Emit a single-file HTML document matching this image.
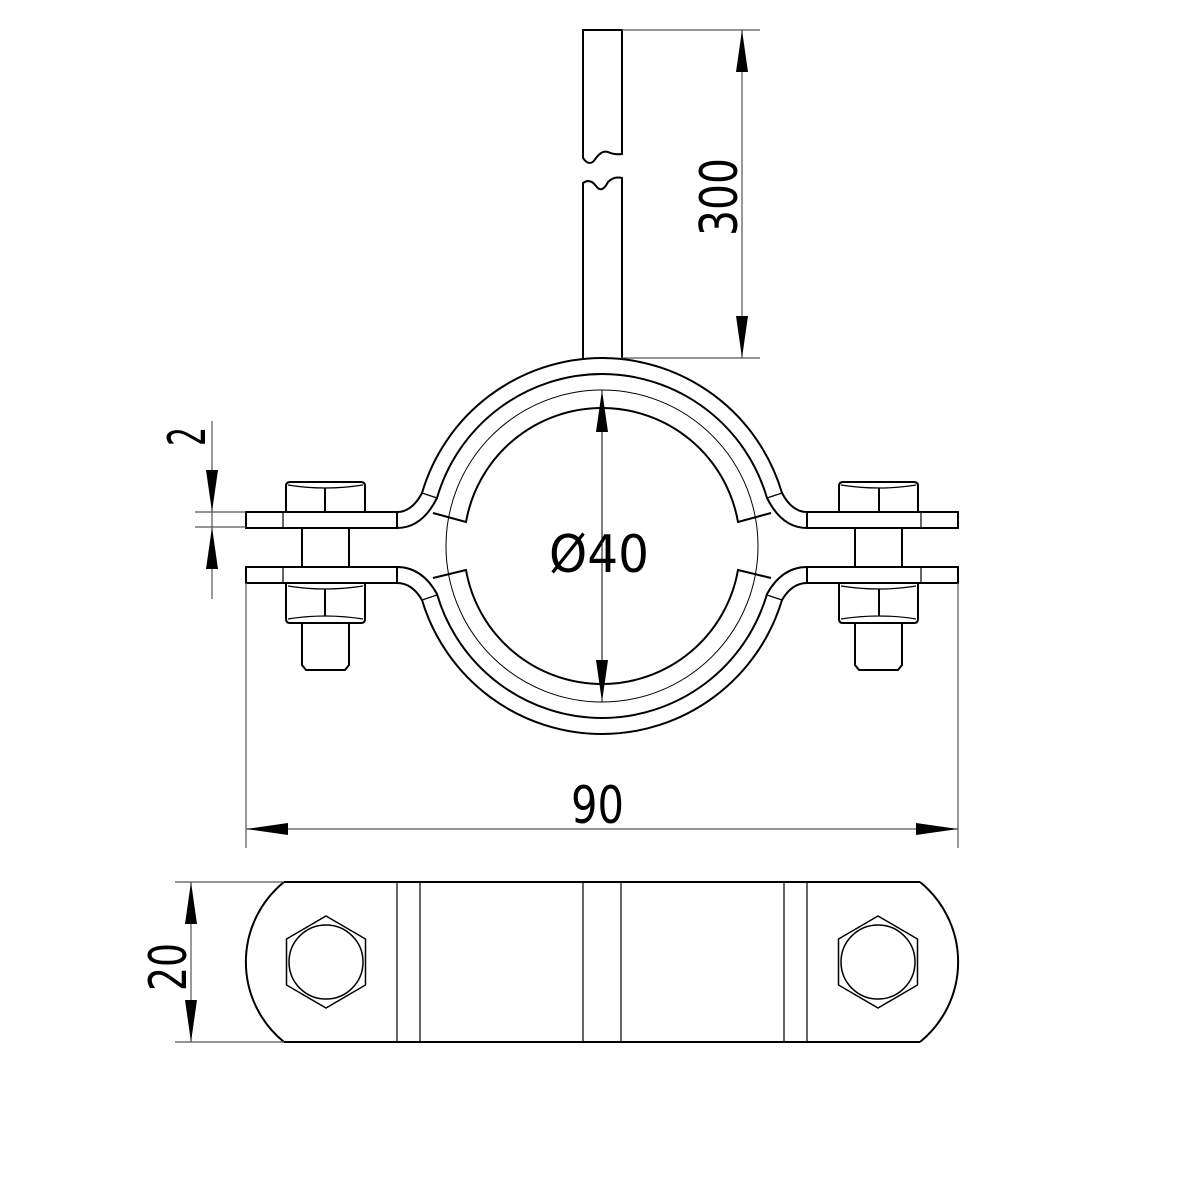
<!DOCTYPE html>
<html><head><meta charset="utf-8"><style>html,body{margin:0;padding:0;background:#fff}svg{display:block}</style></head>
<body>
<svg width="1181" height="1181" viewBox="0 0 1181 1181" xmlns="http://www.w3.org/2000/svg">
<defs>
<g id="half" fill="none" stroke="#000" stroke-width="2">
  <!-- upper plate -->
  <rect x="246" y="512" width="151" height="16"/>
  <line x1="283" y1="512" x2="283" y2="528" stroke-width="1.2"/>
  <!-- lower plate -->
  <rect x="246" y="567" width="151" height="16"/>
  <line x1="283" y1="567" x2="283" y2="583" stroke-width="1.2"/>
  <!-- upper band -->
  <path d="M397,512 Q412,512 422,493 A188,188 0 0 1 602,358"/>
  <path d="M397,528 Q422,528 437,498 A172,172 0 0 1 602,374"/>
  <line x1="422" y1="493" x2="437" y2="498" stroke-width="1.2"/>
  <!-- upper liner -->
  <path d="M433,513 L466,522 A138,138 0 0 1 602,408"/>
  <!-- lower band -->
  <path d="M397,583 Q412,583 422,600 A188,188 0 0 0 602,734"/>
  <path d="M397,567 Q422,567 437,594 A172,172 0 0 0 602,718"/>
  <line x1="422" y1="600" x2="437" y2="595" stroke-width="1.2"/>
  <!-- lower liner -->
  <path d="M433,578 L466,570 A138,138 0 0 0 602,684"/>
  <!-- upper nut -->
  <path d="M286,512 L286,486 Q286,482 290,482 L361,482 Q365,482 365,486 L365,512"/>
  <path d="M288,485 Q306,488 325,488 Q344,488 363,485" stroke-width="1.2"/>
  <line x1="325" y1="488" x2="325" y2="512"/>
  <!-- shaft -->
  <line x1="302" y1="528" x2="302" y2="567"/>
  <line x1="349" y1="528" x2="349" y2="567"/>
  <!-- lower nut -->
  <path d="M286,583 L286,619 Q286,623 290,623 L361,623 Q365,623 365,619 L365,583"/>
  <path d="M288,586 Q306,589 325,589 Q344,589 363,586" stroke-width="1.2"/>
  <path d="M288,619 Q306,616 325,616 Q344,616 363,619" stroke-width="1.2"/>
  <line x1="325" y1="589" x2="325" y2="616"/>
  <!-- bolt end -->
  <path d="M302,623 L302,665 L306,670 L345,670 L349,665 L349,623"/>
  <!-- bottom view half -->
  <path d="M284,882 A103,103 0 0 0 284,1042"/>
  <line x1="284" y1="882" x2="602" y2="882"/>
  <line x1="284" y1="1042" x2="602" y2="1042"/>
  <line x1="397" y1="882" x2="397" y2="1042" stroke-width="1.2"/>
  <line x1="420" y1="882" x2="420" y2="1042" stroke-width="1.2"/>
  <line x1="583" y1="882" x2="583" y2="1042" stroke-width="1.2"/>
  <polygon points="326,916 365.5,939 365.5,985 326,1008 286.5,985 286.5,939" stroke-width="1.5"/>
  <circle cx="326" cy="962" r="37" stroke-width="1.5"/>
</g>
</defs>
<use href="#half"/>
<use href="#half" transform="translate(1204,0) scale(-1,1)"/>
<circle cx="602" cy="546" r="156" fill="none" stroke="#000" stroke-width="1"/>
<!-- rod -->
<g fill="none" stroke="#000" stroke-width="2">
  <path d="M583,358 L583,183 Q590,178 596,186 Q602,194 608,182 Q614,176 622,178 L622,358"/>
  <path d="M583,30 L583,158 Q590,168 596,158 Q602,150 608,152 Q614,155 622,154 L622,30 Z"/>
</g>
<!-- dimensions -->
<g stroke="#555" stroke-width="1.2" fill="none">
  <line x1="622" y1="30" x2="760" y2="30"/>
  <line x1="622" y1="358" x2="760" y2="358"/>
  <line x1="742" y1="30" x2="742" y2="358"/>
  <line x1="195" y1="512" x2="246" y2="512"/>
  <line x1="195" y1="527" x2="246" y2="527"/>
  <line x1="212" y1="421" x2="212" y2="599"/>
  <line x1="246" y1="583" x2="246" y2="848"/>
  <line x1="958" y1="583" x2="958" y2="848"/>
  <line x1="246" y1="829" x2="958" y2="829"/>
  <line x1="602" y1="390" x2="602" y2="702" stroke="#000" stroke-width="1"/>
  <line x1="175" y1="882" x2="284" y2="882"/>
  <line x1="175" y1="1042" x2="284" y2="1042"/>
  <line x1="191" y1="882" x2="191" y2="1042"/>
</g>
<g fill="#000">
  <polygon points="742,30 736,72 748,72"/>
  <polygon points="742,358 736,316 748,316"/>
  <polygon points="212,512 206,470 218,470"/>
  <polygon points="212,527 206,569 218,569"/>
  <polygon points="246,829 288,823 288,835"/>
  <polygon points="958,829 916,823 916,835"/>
  <polygon points="602,390 596,432 608,432"/>
  <polygon points="602,702 596,660 608,660"/>
  <polygon points="191,882 185,924 197,924"/>
  <polygon points="191,1042 185,1000 197,1000"/>
</g>
<g font-family="DejaVu Sans, sans-serif" font-size="52" fill="#000">
  <text x="0" y="0" transform="translate(737,236) rotate(-90)" textLength="78" lengthAdjust="spacingAndGlyphs">300</text>
  <text x="0" y="0" transform="translate(205,446) rotate(-90)" textLength="19" lengthAdjust="spacingAndGlyphs">2</text>
  <text x="571" y="823" textLength="53" lengthAdjust="spacingAndGlyphs">90</text>
  <text x="549" y="572" textLength="100" lengthAdjust="spacingAndGlyphs">Ø40</text>
  <text x="0" y="0" transform="translate(186,991) rotate(-90)" textLength="48" lengthAdjust="spacingAndGlyphs">20</text>
</g>
</svg>
</body></html>
